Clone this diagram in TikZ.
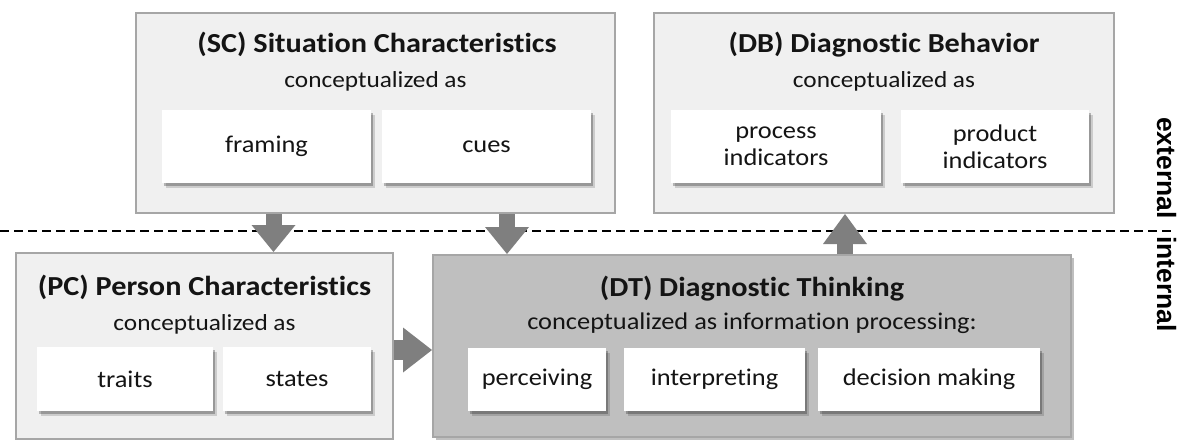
\documentclass[tikz,border=0pt]{standalone}
\usepackage{fontspec}
\setmainfont{Carlito}[FakeStretch=1.1, Ligatures=NoCommon]
\newfontfamily\sidefont{Liberation Sans}
\usetikzlibrary{arrows.meta,shadows}
\definecolor{boxfill}{HTML}{F0F0F0}
\definecolor{boxline}{HTML}{A6A6A6}
\definecolor{dtfill}{HTML}{BFBFBF}
\definecolor{arrowc}{HTML}{7F7F7F}
\definecolor{txt}{HTML}{141414}
\begin{document}
\begin{tikzpicture}[x=1pt,y=-1pt,
  outerbox/.style={draw=boxline, line width=2pt, fill=boxfill, inner sep=0pt},
  dtbox/.style={draw=boxline, line width=2pt, fill=dtfill, inner sep=0pt,
     drop shadow={shadow xshift=3pt, shadow yshift=-3pt, opacity=0.25, fill=black}},
  ttl/.style={font=\fontsize{27.5}{31}\selectfont\bfseries, text=txt, inner sep=0pt},
  subt/.style={font=\fontsize{23}{27}\selectfont, text=txt, inner sep=0pt},
  innerbox/.style={fill=white, draw=none, inner sep=0pt, align=center, text=txt,
     font=\fontsize{24}{27}\selectfont,
     drop shadow={shadow xshift=4pt, shadow yshift=-5pt, opacity=0.15, fill=black},
     drop shadow={shadow xshift=2pt, shadow yshift=-3pt, opacity=0.25, fill=black}},
  bigarrow/.style={draw=arrowc, line width=16pt, -{Triangle[width=44pt,length=27pt,line width=0pt]}},
  sidetext/.style={font=\sidefont\bfseries\fontsize{26.5}{30}\selectfont, text=black, inner sep=0pt}
]
\useasboundingbox (0,0) rectangle (1177,441);
% dashed separator
\coordinate (dl) at (0,231);
\coordinate (dr) at (1174,231);
\draw[line width=2pt, dash pattern=on 9pt off 5pt] (dl) -- (dr);

% SC
\node[outerbox, minimum width=479pt, minimum height=200pt] (SC) at (375.5,113) {};
\node[ttl, anchor=base] (SCt) at (377,53) {(SC) Situation Characteristics};
\node[subt, anchor=base] (SCs) at (375.5,88) {conceptualized as};
\node[innerbox, minimum width=209pt, minimum height=73pt] (fr) at (266.5,146.5) {framing};
\node[innerbox, minimum width=209pt, minimum height=73pt] (cu) at (486.5,146.5) {cues};

% DB
\node[outerbox, minimum width=460pt, minimum height=200pt] (DB) at (884,113) {};
\node[ttl, anchor=base] (DBt) at (884,53) {(DB) Diagnostic Behavior};
\node[subt, anchor=base] (DBs) at (884,88) {conceptualized as};
\node[innerbox, minimum width=210pt, minimum height=73pt] (pi) at (776,146.5) {process\\indicators};
\node[innerbox, minimum width=188pt, minimum height=73pt] (pr) at (995,146.5) {product\\indicators};

% PC
\node[outerbox, minimum width=377pt, minimum height=186pt] (PC) at (204.5,346) {};
\node[ttl, anchor=base] (PCt) at (204.5,295) {(PC) Person Characteristics};
\node[subt, anchor=base] (PCs) at (204.5,330) {conceptualized as};
\node[innerbox, minimum width=176pt, minimum height=64pt] (tr) at (125,379) {traits};
\node[innerbox, minimum width=148pt, minimum height=64pt] (st) at (297,379) {states};

% DT
\node[dtbox, minimum width=638pt, minimum height=182pt] (DT) at (752,346) {};
\node[ttl, anchor=base] (DTt) at (752,296) {(DT) Diagnostic Thinking};
\node[subt, anchor=base, font=\fontsize{24}{27}\selectfont] (DTs) at (752,329) {conceptualized as information processing:};
\node[innerbox, minimum width=138pt, minimum height=63pt] (pe) at (537,379.5) {perceiving};
\node[innerbox, minimum width=181pt, minimum height=63pt] (in) at (714.5,379.5) {interpreting};
\node[innerbox, minimum width=222pt, minimum height=63pt] (dm) at (929,379.5) {decision making};

% arrows
\coordinate (a1) at (273.5,0);
\coordinate (a2) at (507,0);
\coordinate (a3) at (845,0);
\coordinate (a4) at (0,350);
\draw[bigarrow] (a1 |- SC.south) -- (a1 |- PC.north);
\draw[bigarrow] (a2 |- SC.south) -- (a2 |- DT.north);
\draw[draw=arrowc, line width=16pt, -{Triangle[width=44pt,length=30pt,line width=0pt]}] (a3 |- DT.north) -- (a3 |- DB.south);
\draw[draw=arrowc, line width=20pt, -{Triangle[width=45pt,length=29pt,line width=0pt]}] (PC.east |- a4) -- (DT.west |- a4);

% side labels
\node[sidetext, rotate=-90, anchor=base east] (ext) at (1157,219) {external};
\node[sidetext, rotate=-90, anchor=base west] (int) at (1157,236) {internal};
\end{tikzpicture}
\end{document}
